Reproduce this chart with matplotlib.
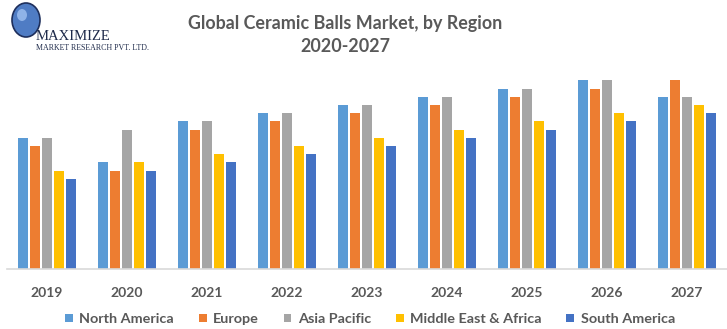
import matplotlib
matplotlib.use('Agg')
import matplotlib.pyplot as plt
import numpy as np
from matplotlib.patches import Ellipse

years = ["2019", "2020", "2021", "2022", "2023", "2024", "2025", "2026", "2027"]
regions = ["North America", "Europe", "Asia Pacific", "Middle East & Africa", "South America"]

north_america = [16, 13, 18, 19, 20, 21, 22, 23, 21]
europe = [15, 12, 17, 18, 19, 20, 21, 22, 23]
asia_pacific = [16, 17, 18, 19, 20, 21, 22, 23, 21]
mea = [12, 13, 14, 15, 16, 17, 18, 19, 20]
south_america = [11, 12, 13, 14, 15, 16, 17, 18, 19]

series = [north_america, europe, asia_pacific, mea, south_america]
colors = ["#5B9BD5", "#ED7D31", "#A5A5A5", "#FFC000", "#4472C4"]
text_col = "#595959"

W, H = 727, 329
fig = plt.figure(figsize=(W / 100, H / 100), dpi=100)
ax = fig.add_axes([7 / W, (H - 269) / H, 720 / W, 205 / H])

x = np.arange(len(years))
step = 0.15
width = 0.125
handles = []
for i, vals in enumerate(series):
    b = ax.bar(x + (i - 2) * step, vals, width, color=colors[i], label=regions[i])
    handles.append(b)

ax.set_xlim(-0.5, len(years) - 0.5)
ax.set_ylim(0, 25)
ax.set_yticks([])
ax.set_xticks(x)
ax.set_xticklabels(years, fontsize=10, fontweight='bold', color=text_col, family='Lato')
ax.tick_params(axis='x', length=0, pad=13)
for s in ["top", "right", "left"]:
    ax.spines[s].set_visible(False)
ax.spines["bottom"].set_color("#D9D9D9")
ax.spines["bottom"].set_linewidth(1.2)

# title
fig.text(345 / W, 1 - 24 / H, "Global Ceramic Balls Market, by Region", ha='center', va='center',
         fontsize=12.9, fontweight='bold', color=text_col, family='Lato')
fig.text(345 / W, 1 - 47 / H, "2020-2027", ha='center', va='center',
         fontsize=12.9, fontweight='bold', color=text_col, family='Lato')

# logo
fig.patches.append(Ellipse((26 / W, 1 - 20 / H), 28 / W, 34 / H, transform=fig.transFigure,
                           facecolor="#4F7CC4", edgecolor="#1E2F5C", lw=1.2))
fig.patches.append(Ellipse((22 / W, 1 - 15 / H), 10 / W, 12 / H, transform=fig.transFigure,
                           facecolor="#8FB3E8", edgecolor="none"))
fig.text(36 / W, 1 - 36 / H, "MAXIMIZE", ha='left', va='center', fontsize=10.5,
         family='Liberation Serif', color="#1E2A4A")
fig.text(36 / W, 1 - 48 / H, "MARKET RESEARCH PVT. LTD.", ha='left', va='center', fontsize=5.7,
         family='Liberation Serif', color="#1E2A4A")

leg = fig.legend(handles, regions, loc='center', bbox_to_anchor=(370 / W, 1 - 319 / H), ncol=5,
                 frameon=False, handlelength=0.55, handleheight=0.55, handletextpad=0.45,
                 columnspacing=1.7, prop={'family': 'Lato', 'weight': 'bold', 'size': 10.4})
for t in leg.get_texts():
    t.set_color(text_col)

plt.savefig("out.png", dpi=100)
